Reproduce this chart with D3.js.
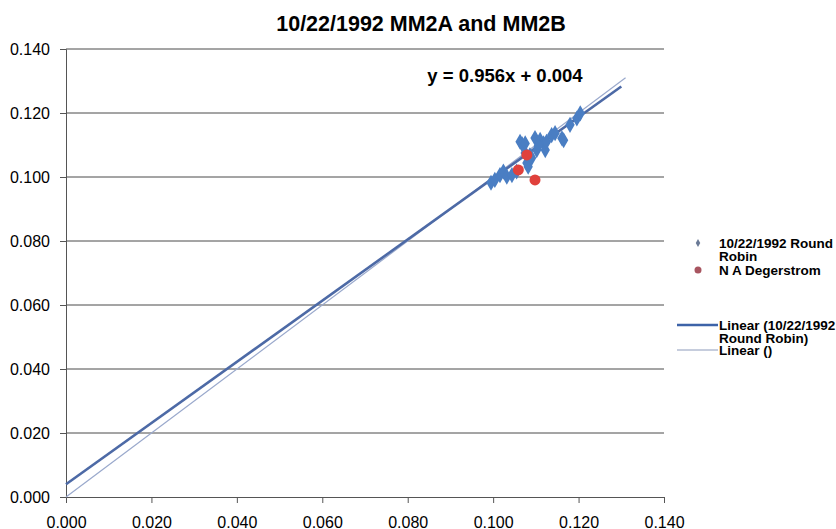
<!DOCTYPE html>
<html>
<head>
<meta charset="utf-8">
<script src="https://cdn.jsdelivr.net/npm/d3@7/dist/d3.min.js"></script>
<style>
  body { margin: 0; background: #fff; }
  text { font-family: "Liberation Sans", Arial, sans-serif; fill: #000; }
</style>
</head>
<body>
<div id="chart"></div>
<script>
// data
const title = "10/22/1992 MM2A and MM2B";
const xTicks = [0, 0.02, 0.04, 0.06, 0.08, 0.1, 0.12, 0.14];
const yTicks = [0, 0.02, 0.04, 0.06, 0.08, 0.1, 0.12, 0.14];

// 10/22/1992 Round Robin
const rrX = [0.0995, 0.1004, 0.1016, 0.1024, 0.1032, 0.1044, 0.1055, 0.1063, 0.1068, 0.1075,
             0.1075, 0.1079, 0.1082, 0.1090, 0.1098, 0.1102, 0.1110, 0.1118, 0.1122, 0.1125,
             0.1137, 0.1145, 0.1161, 0.1165, 0.1180, 0.1196, 0.1204, 0.1086, 0.1106];
const rrY = [0.0982, 0.0991, 0.1006, 0.1017, 0.1001, 0.1006, 0.1017, 0.1110, 0.1102, 0.1105,
             0.1075, 0.1044, 0.1032, 0.1059, 0.1122, 0.1084, 0.1116, 0.1105, 0.1084, 0.1110,
             0.1131, 0.1137, 0.1121, 0.1115, 0.1163, 0.1183, 0.1199, 0.1068, 0.1098];

// N A Degerstrom
const degX = [0.1059, 0.1098, 0.1079];
const degY = [0.1022, 0.0991, 0.1069];

// trendlines
const fitSlope = 0.956, fitIntercept = 0.004;
const fitX = [0, 0.130];
const oneX = [0, 0.131]; // Linear ()
const equation = "y = 0.956x + 0.004";

const W = 836, H = 529;
const margin = {left: 66, top: 49, right: 172, bottom: 32};

const svg = d3.select("#chart").append("svg")
  .attr("width", W).attr("height", H);

const x = d3.scaleLinear().domain([0, 0.14]).range([margin.left, W - margin.right]);
const y = d3.scaleLinear().domain([0, 0.14]).range([H - margin.bottom, margin.top]);

// title
svg.append("text")
  .attr("x", 421).attr("y", 31)
  .attr("text-anchor", "middle")
  .style("font-size", "21.5px").style("font-weight", "bold")
  .text(title);

// gridlines
svg.append("g")
  .selectAll("line")
  .data(yTicks.slice(1))
  .join("line")
  .attr("x1", x(0)).attr("x2", x(0.14))
  .attr("y1", d => y(d)).attr("y2", d => y(d))
  .attr("stroke", "#4a4a4a").attr("stroke-width", 1);

// axes
const yAxis = d3.axisLeft(y).tickValues(yTicks).tickFormat(d3.format(".3f")).tickSize(6).tickPadding(10);
const xAxis = d3.axisBottom(x).tickValues(xTicks).tickFormat(d3.format(".3f")).tickSize(6).tickPadding(14);

svg.append("g")
  .attr("transform", `translate(${x(0)},0)`)
  .call(yAxis)
  .call(g => g.selectAll("line, path").attr("stroke", "#555"))
  .call(g => g.selectAll("text").style("font-size", "16px").attr("dy", "0.36em"));

svg.append("g")
  .attr("transform", `translate(0,${y(0)})`)
  .call(xAxis)
  .call(g => g.selectAll("line, path").attr("stroke", "#555"))
  .call(g => g.selectAll("text").style("font-size", "16px"));

// Linear () thin line
const line = d3.line().x(d => x(d[0])).y(d => y(d[1]));
svg.append("path")
  .datum(oneX.map(v => [v, v]))
  .attr("d", line)
  .attr("fill", "none")
  .attr("stroke", "#9aa9cc").attr("stroke-width", 1.2);

// fitted line
svg.append("path")
  .datum(fitX.map(v => [v, fitSlope * v + fitIntercept]))
  .attr("d", line)
  .attr("fill", "none")
  .attr("stroke", "#4d6aa6").attr("stroke-width", 2.6);

// round robin points (diamonds)
const diamond = d3.symbol().type(d3.symbolDiamond).size(75);
svg.append("g")
  .selectAll("path")
  .data(rrX.map((v, i) => [v, rrY[i]]))
  .join("path")
  .attr("d", diamond)
  .attr("transform", d => `translate(${x(d[0])},${y(d[1])})`)
  .attr("fill", "#4a7ec3");

// Degerstrom points
svg.append("g")
  .selectAll("circle")
  .data(degX.map((v, i) => [v, degY[i]]))
  .join("circle")
  .attr("cx", d => x(d[0])).attr("cy", d => y(d[1]))
  .attr("r", 5.5)
  .attr("fill", "#e0413c");

// equation label
svg.append("text")
  .attr("x", 505).attr("y", 82)
  .attr("text-anchor", "middle")
  .style("font-size", "18.5px").style("font-weight", "bold")
  .text(equation);

// legend
const lg = svg.append("g").style("font-size", "13.5px").style("font-weight", "bold");
lg.append("path")
  .attr("d", d3.symbol().type(d3.symbolDiamond).size(18))
  .attr("transform", "translate(698,243)")
  .attr("fill", "#6a7a96");
lg.append("text").attr("x", 719).attr("y", 248).text("10/22/1992 Round");
lg.append("text").attr("x", 719).attr("y", 261).text("Robin");
lg.append("circle").attr("cx", 698).attr("cy", 270).attr("r", 3.5).attr("fill", "#a85560");
lg.append("text").attr("x", 719).attr("y", 275).text("N A Degerstrom");

lg.append("line").attr("x1", 677).attr("x2", 718).attr("y1", 325).attr("y2", 325)
  .attr("stroke", "#3d63a8").attr("stroke-width", 2.5);
lg.append("text").attr("x", 719).attr("y", 330).text("Linear (10/22/1992");
lg.append("text").attr("x", 719).attr("y", 343).text("Round Robin)");
lg.append("line").attr("x1", 677).attr("x2", 718).attr("y1", 350).attr("y2", 350)
  .attr("stroke", "#8d9bbb").attr("stroke-width", 1);
lg.append("text").attr("x", 719).attr("y", 355).text("Linear ()");
</script>
</body>
</html>
